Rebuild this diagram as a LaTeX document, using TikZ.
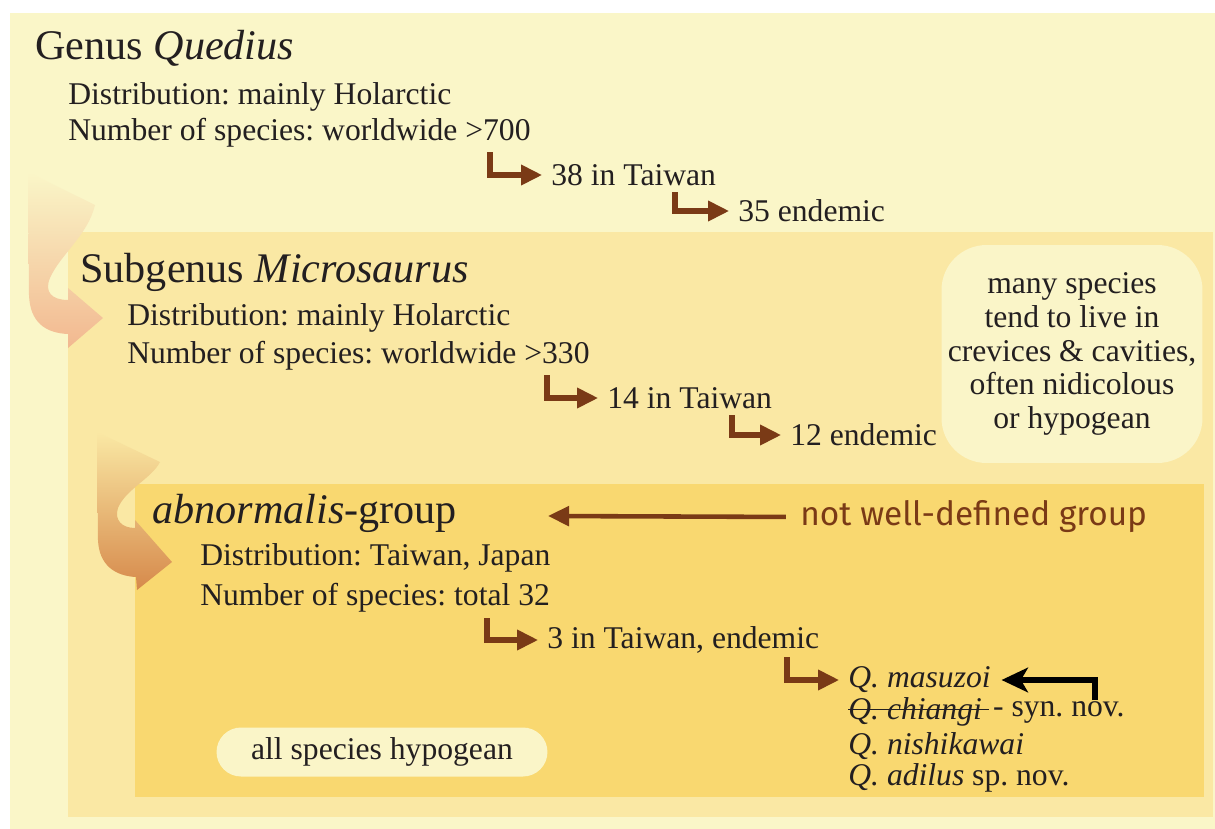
\documentclass[tikz,border=0pt]{standalone}
\usepackage{fontspec}
\setmainfont{Liberation Serif}
\newfontfamily\handfont{Fira Sans}
\usetikzlibrary{arrows.meta}
\definecolor{outerbg}{RGB}{250,246,200}
\definecolor{midbg}{RGB}{250,232,164}
\definecolor{innerbg}{RGB}{249,216,112}
\definecolor{notebg}{RGB}{250,245,200}
\definecolor{ink}{RGB}{35,31,32}
\definecolor{rust}{RGB}{122,58,22}
\definecolor{salmon}{RGB}{242,184,144}
\definecolor{ochre}{RGB}{214,137,75}
\frenchspacing
\begin{document}
\begin{tikzpicture}[x=0.02cm,y=-0.02cm,
  txt/.style={anchor=west,inner sep=0pt,text=ink,font=\fontsize{18}{22}\selectfont},
  head/.style={anchor=west,inner sep=0pt,text=ink,font=\fontsize{24}{28}\selectfont},
  elbow/.style={draw=rust,line width=3.2pt,-{Triangle[length=12pt,width=11pt]},shorten >=5pt},
  note/.style={fill=notebg,text=ink,align=center,inner sep=0pt,font=\fontsize{18}{19.3}\selectfont}]
\useasboundingbox (0,0) rectangle (1215,829);
\fill[white] (0,0) rectangle (1215,829);
\fill[outerbg] (10,13) rectangle (1215,829);
\fill[midbg] (68,232) rectangle (1213,817);
\fill[innerbg] (135,484) rectangle (1204,797);
\shade[top color=outerbg,bottom color=salmon] (28,172) -- (29,295)
  .. controls (30,322) and (45,333) .. (68,334) -- (68,348) -- (103,318) -- (68,288) -- (68,300)
  .. controls (52,300) and (44,292) .. (50,278) .. controls (60,255) and (88,235) .. (95,205) -- cycle;
\shade[top color=midbg,bottom color=ochre] (97,432) -- (98,540)
  .. controls (99,565) and (115,576) .. (136,577) -- (137,590) -- (172,562) -- (135,520) -- (135,528)
  .. controls (122,528) and (114,520) .. (118,508) .. controls (125,490) and (152,478) .. (160,462) -- cycle;
\node[head] (genus) at (35,48) {Genus \textit{Quedius}};
\node[txt] (gdist) at (68,97) {Distribution: mainly Holarctic};
\node[txt] (gnum) at (68,133) {Number of species: worldwide >700};
\node[txt] (gtw) at (551,175) {38 in Taiwan};
\node[txt] (gend) at (738,211) {35 endemic};
\coordinate (g1) at (490,152);
\coordinate (g2) at (675,192);
\draw[elbow] (g1) |- (gtw.west);
\draw[elbow] (g2) |- (gend.west);
\node[head] (sub) at (80,272) {Subgenus \textit{Microsaurus}};
\node[txt] (sdist) at (127,318) {Distribution: mainly Holarctic};
\node[txt] (snum) at (127,356) {Number of species: worldwide >330};
\node[txt] (stw) at (607,398) {14 in Taiwan};
\node[txt] (send) at (790,435) {12 endemic};
\coordinate (s1) at (547,375);
\coordinate (s2) at (732,415);
\draw[elbow] (s1) |- (stw.west);
\draw[elbow] (s2) |- (send.west);
\node[note,minimum width=5.22cm,minimum height=4.36cm,rounded corners=0.9cm] (habit) at (1072,354)
  {many species\\tend to live in\\crevices \& cavities,\\often nidicolous\\or hypogean};
\node[head] (grp) at (152,513) {\textit{abnormalis}-group};
\node[anchor=west,inner sep=0pt,text=rust,font=\handfont\fontsize{19}{22}\selectfont] (nwd) at (800,517) {not well-defined group};
\coordinate (gtip) at (548,516);
\draw[rust,line width=2.6pt,-{Triangle[length=12pt,width=11pt]},shorten <=8pt] (nwd.west) -- (gtip);
\node[txt] (adist) at (200,558) {Distribution: Taiwan, Japan};
\node[txt] (anum) at (200,598) {Number of species: total 32};
\node[txt] (atw) at (547,640) {3 in Taiwan, endemic};
\coordinate (a1) at (487,618);
\draw[elbow] (a1) |- (atw.west);
\node[txt] (masu) at (848,680) {\textit{Q. masuzoi}};
\node[txt] (chia) at (848,712) {\textit{Q. chiangi}};
\node[txt] (syn) at ([xshift=6pt]chia.east) {- syn. nov.};
\node[txt] (nish) at (848,746) {\textit{Q. nishikawai}};
\node[txt] (adil) at (848,778) {\textit{Q. adilus} sp. nov.};
\draw[ink,line width=0.9pt] ([yshift=1.5pt]chia.west) -- ([xshift=4pt,yshift=1.5pt]chia.east);
\coordinate (a2) at (787,657);
\draw[elbow] (a2) |- (masu.west);
\coordinate (b1) at (1095,700);
\draw[black,line width=3.2pt,-{Stealth[length=15pt,width=14pt,inset=4pt]},shorten >=6pt] (b1) |- (masu.east);
\node[note,minimum width=6.62cm,minimum height=0.98cm,rounded corners=0.49cm] (hypo) at (382,752) {all species hypogean};
\end{tikzpicture}
\end{document}
